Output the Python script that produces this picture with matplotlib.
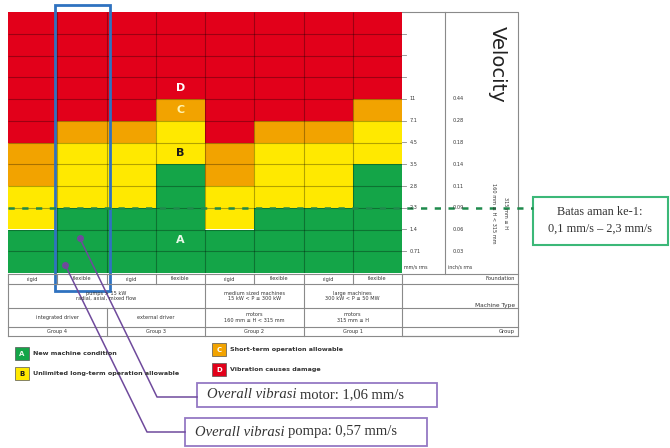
import numpy as np
import matplotlib.pyplot as plt
from matplotlib.patches import Rectangle

# ISO 10816-3 style vibration severity chart
foundation = ["rigid", "flexible", "rigid", "flexible", "rigid", "flexible", "rigid", "flexible"]
# zone limits (mm/s rms) per column
limit_ab = [1.4, 2.3, 2.3, 3.5, 1.4, 2.3, 2.3, 3.5]
limit_bc = [2.8, 4.5, 4.5, 7.1, 2.8, 4.5, 4.5, 7.1]
limit_cd = [4.5, 7.1, 7.1, 11, 4.5, 7.1, 7.1, 11]

# row borders of the velocity scale, bottom to top
scale_mm = [0.5, 0.71, 1.4, 2.3, 2.8, 3.5, 4.5, 7.1, 11, 18, 28, 45, 71]
mm_labels = ["0.71", "1.4", "2.3", "2.8", "3.5", "4.5", "7.1", "11"]
in_labels = ["0.03", "0.06", "0.09", "0.11", "0.14", "0.18", "0.28", "0.44"]

machine_type = ["pumps > 15 kW\nradial, axial, mixed flow",
                "medium sized machines\n15 kW < P ≤ 300 kW",
                "large machines\n300 kW < P ≤ 50 MW"]
machine_span = [(0, 4), (4, 6), (6, 8)]
driver = ["integrated driver", "external driver",
          "motors\n160 mm ≤ H < 315 mm", "motors\n315 mm ≤ H"]
groups = ["Group 4", "Group 3", "Group 2", "Group 1"]
group_span = [(0, 2), (2, 4), (4, 6), (6, 8)]

legend_letters = ["A", "B", "C", "D"]
legend_texts = ["New machine condition", "Unlimited long-term operation allowable",
                "Short-term operation allowable", "Vibration causes damage"]

# measured overall vibration (mm/s), both on column 1 (flexible, group 4)
meas_names = ["motor", "pompa"]
meas_vals = [1.06, 0.57]
meas_col = [1, 1]
safe_limit = 2.3

zone_colors = ["#14a548", "#ffe900", "#f2a300", "#e2001a"]
letter_colors = ["#e8f8e8", "#1a1a1a", "#fff3b0", "#ffffff"]


def to_y(v):
    return np.interp(np.log(v), np.log(scale_mm), np.arange(len(scale_mm)))


W, H = 670, 448
fig = plt.figure(figsize=(6.7, 4.48), dpi=100)
x0, x1, y0, y1 = 8, 402, 12, 273
ax = fig.add_axes([x0 / W, 1 - y1 / H, (x1 - x0) / W, (y1 - y0) / H])
ax.set_xlim(0, 8)
ax.set_ylim(0, 12)
ax.axis("off")
lay = fig.add_axes([0, 0, 1, 1], zorder=3)
lay.set_xlim(0, W)
lay.set_ylim(H, 0)
lay.axis("off")
lay.patch.set_alpha(0)

# coloured zones
for c in range(8):
    edges = [0, to_y(limit_ab[c]), to_y(limit_bc[c]), to_y(limit_cd[c]), 12]
    for z in range(4):
        ax.bar(c + 0.5, edges[z + 1] - edges[z], bottom=edges[z], width=1,
               color=zone_colors[z], edgecolor="none")
ax.hlines(np.arange(1, 12), 0, 8, color="black", alpha=0.3, lw=0.8)
ax.vlines(np.arange(1, 8), 0, 12, color="black", alpha=0.3, lw=0.8)

for i, (letter, v) in enumerate(zip(legend_letters, [1.5, 5.5, 7.5, 8.5])):
    ax.text(3.5, v, letter, ha="center", va="center", fontsize=8,
            fontweight="bold", color=letter_colors[i])

# measured points
dot_dx = [0.46, 0.16]
pts = []
for i, v in enumerate(meas_vals):
    px, py = meas_col[i] + dot_dx[i], to_y(v)
    ax.plot(px, py, "o", ms=4, color="#6f4a9c", zorder=5)
    disp = ax.transData.transform((px, py))
    pts.append(lay.transData.inverted().transform(disp))

def colx(c):
    return x0 + c * (x1 - x0) / 8

gray = "#8a8a8a"
# right panel
lay.plot([x1, 518, 518, x1], [y0, y0, 336, 336], color=gray, lw=0.8)
lay.plot([445, 445], [y0, 274], color=gray, lw=0.8)
for k in range(1, 12):
    yy = y1 - k * (y1 - y0) / 12
    lay.plot([x1, x1 + 4], [yy, yy], color=gray, lw=0.6)
    if k <= len(mm_labels):
        lay.text(410, yy, mm_labels[k - 1], fontsize=3.6, va="center", color="#333333")
        lay.text(453, yy, in_labels[k - 1], fontsize=3.6, va="center", color="#333333")
lay.text(404, 267, "mm/s rms", fontsize=3.4, va="center", color="#333333")
lay.text(448, 267, "inch/s rms", fontsize=3.4, va="center", color="#333333")
lay.text(497, 64, "Velocity", rotation=-90, fontsize=14, ha="center", va="center",
         color="#222222")
lay.text(493, 213, "160 mm ≤ H < 315 mm", rotation=-90, fontsize=3.6,
         ha="center", va="center", color="#333333")
lay.text(505, 213, "315 mm ≤ H", rotation=-90, fontsize=3.6,
         ha="center", va="center", color="#333333")

# table under the chart
rows = [274, 284, 308, 327, 336]
for yy in rows:
    lay.plot([x0, 518], [yy, yy], color=gray, lw=0.8)
lay.plot([x0, x0], [274, 336], color=gray, lw=0.8)
for c in range(1, 9):
    lay.plot([colx(c), colx(c)], [274, 284], color=gray, lw=0.8)
for a, b in machine_span:
    lay.plot([colx(b), colx(b)], [284, 308], color=gray, lw=0.8)
for a, b in group_span:
    lay.plot([colx(b), colx(b)], [308, 336], color=gray, lw=0.8)
tk = dict(fontsize=3.6, ha="center", va="center", color="#333333", linespacing=1.1)
for c, f in enumerate(foundation):
    lay.text(colx(c + 0.5), 279, f, **tk)
for t, (a, b) in zip(machine_type, machine_span):
    lay.text((colx(a) + colx(b)) / 2, 296, t, **tk)
for t, (a, b) in zip(driver, group_span):
    lay.text((colx(a) + colx(b)) / 2, 317.5, t, **tk)
for t, (a, b) in zip(groups, group_span):
    lay.text((colx(a) + colx(b)) / 2, 331.5, t, **tk)
lay.text(515, 279, "Foundation", fontsize=3.8, ha="right", va="center", color="#333333")
lay.text(515, 306, "Machine Type", fontsize=4.2, ha="right", va="center", color="#333333")
lay.text(515, 331.5, "Group", fontsize=3.8, ha="right", va="center", color="#333333")

# legend
leg_pos = [(15, 347), (15, 367), (212, 343), (212, 363)]
for i in range(4):
    lx, ly = leg_pos[i]
    lay.add_patch(Rectangle((lx, ly), 14, 13, facecolor=zone_colors[i],
                            edgecolor="#555555", lw=0.5))
    lay.text(lx + 7, ly + 6.5, legend_letters[i], fontsize=5, fontweight="bold",
             ha="center", va="center", color=letter_colors[i] if i != 2 else "#ffffff")
    lay.text(lx + 18, ly + 6.5, legend_texts[i], fontsize=4.6, fontweight="bold",
             va="center", color="#333333")

# blue frame around column 1
lay.add_patch(Rectangle((colx(1) - 2, 5), colx(2) - colx(1) + 5, 286,
                        fill=False, edgecolor="#2f72c0", lw=2))

# 2.3 mm/s limit line and note
ylim_px = y1 - to_y(safe_limit) * (y1 - y0) / 12
lay.plot([x0, 533], [ylim_px, ylim_px], color="#1f8a4c", lw=1.8,
         linestyle=(0, (2.5, 3)))
lay.add_patch(Rectangle((533, 197), 135, 48, facecolor="white",
                        edgecolor="#3cb878", lw=1.5))
lay.text(600, 212, "Batas aman ke-1:", family="Liberation Serif", fontsize=8.8,
         ha="center", va="center", color="#333333")
lay.text(600, 229, "0,1 mm/s – 2,3 mm/s", family="Liberation Serif", fontsize=8.8,
         ha="center", va="center", color="#333333")

# measurement callouts
box_rect = [(197, 383, 240, 24), (185, 418, 242, 28)]
elbow = [(157, 397), (147, 432)]
for i in range(2):
    bx, by, bw, bh = box_rect[i]
    ex, ey = elbow[i]
    lay.plot([pts[i][0], ex, bx], [pts[i][1], ey, ey], color="#6f4a9c", lw=1.1)
    lay.add_patch(Rectangle((bx, by), bw, bh, facecolor="white",
                            edgecolor="#9478c4", lw=1.3))
    t = lay.text(bx + 10, by + bh / 2, "Overall vibrasi ", family="Liberation Serif",
                 style="italic", fontsize=10.5, va="center", color="#333333")
    vtxt = f"{meas_vals[i]:.2f}".replace(".", ",")
    lay.annotate(f"{meas_names[i]}: {vtxt} mm/s", xy=(1, 0), xycoords=t,
                 va="bottom", ha="left", family="Liberation Serif", fontsize=10.5,
                 color="#333333")

fig.savefig("out.png", dpi=100)
